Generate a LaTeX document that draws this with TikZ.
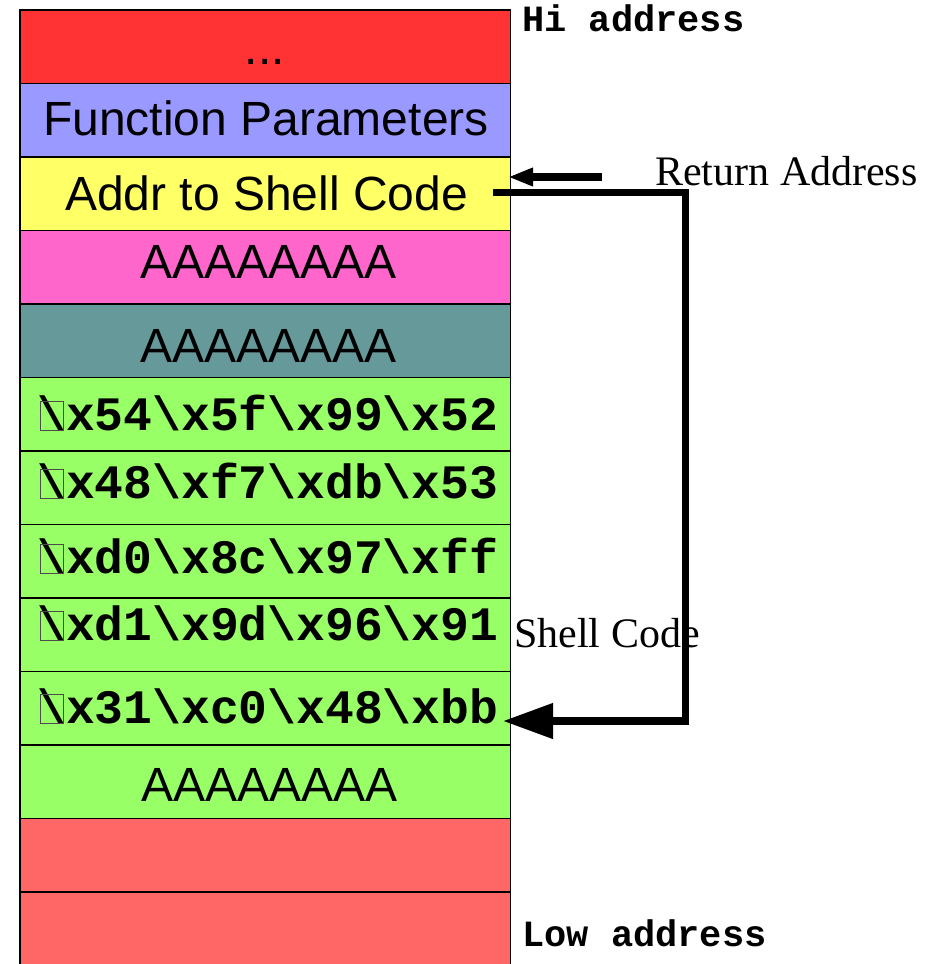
\documentclass[tikz,border=0pt]{standalone}
\usepackage{fontspec}
\setmainfont{Liberation Sans}
\newfontfamily\codefont{Liberation Mono}
\newfontfamily\labelfont{Liberation Serif}
\usetikzlibrary{arrows.meta}

\definecolor{cellred}{RGB}{255,51,51}
\definecolor{cellblue}{RGB}{153,153,255}
\definecolor{cellyellow}{RGB}{255,255,102}
\definecolor{cellpink}{RGB}{255,102,204}
\definecolor{cellteal}{RGB}{102,153,153}
\definecolor{cellgreen}{RGB}{153,255,102}
\definecolor{cellsalmon}{RGB}{255,102,102}

\begin{document}
\begin{tikzpicture}[x=1pt,y=-1pt,
  cell/.style={draw=black, line width=1.2pt, minimum width=490.5pt,
    minimum height=73.5pt, anchor=north west, inner sep=0pt, outer sep=0pt},
  bigtext/.style={font=\fontsize{48}{48}\selectfont, anchor=base, inner sep=0pt},
  codetext/.style={font=\codefont\bfseries\fontsize{48}{48}\selectfont,
    anchor=base west, inner sep=0pt},
  addrtext/.style={font=\codefont\bfseries\fontsize{37}{37}\selectfont,
    anchor=base west, inner sep=0pt},
  notetext/.style={font=\labelfont\fontsize{42}{42}\selectfont,
    anchor=base west, inner sep=0pt},
  glyphbox/.style={draw=black!70, line width=0.8pt},
  shortarrow/.style={line width=8pt, -{Triangle[length=25pt,width=17pt]}},
  jump/.style={line width=7.5pt, -{Triangle[length=50pt,width=34pt]}}
]
\fill[white] (0,0) rectangle (938,964);
\useasboundingbox (0,0) rectangle (938,964);

% stack cells, top (high address) to bottom
\foreach \i/\c in {1/cellred,2/cellblue,3/cellyellow,4/cellpink,5/cellteal,
                   6/cellgreen,7/cellgreen,8/cellgreen,9/cellgreen,10/cellgreen,
                   11/cellgreen,12/cellsalmon}{
  \node[cell, fill=\c] (r\i) at (20,{10+(\i-1)*73.5}) {};
}
% last cell runs off the bottom edge
\node[cell, draw=none, fill=cellsalmon, minimum height=72pt] (r13) at (20,892) {};
\draw[line width=1.2pt] (r13.south west) -- (r13.north west) -- (r13.north east) -- (r13.south east);

% cell contents
\node[bigtext] (t1) at (265,64) {...};
\node[bigtext] (t2) at (266,135) {Function Parameters};
\node[bigtext] (t3) at (266.5,210) {Addr to Shell Code};
\node[bigtext] (t4) at (268.5,278) {AAAAAAAA};
\node[bigtext] (t5) at (268.5,362) {AAAAAAAA};
\node[codetext] (c1) at (37,430) {\textbackslash x54\textbackslash x5f\textbackslash x99\textbackslash x52};
\node[codetext] (c2) at (37,498) {\textbackslash x48\textbackslash xf7\textbackslash xdb\textbackslash x53};
\node[codetext] (c3) at (37,573) {\textbackslash xd0\textbackslash x8c\textbackslash x97\textbackslash xff};
\node[codetext] (c4) at (37,640) {\textbackslash xd1\textbackslash x9d\textbackslash x96\textbackslash x91};
\node[codetext] (c5) at (37,723) {\textbackslash x31\textbackslash xc0\textbackslash x48\textbackslash xbb};
\node[bigtext] (t11) at (269.5,801) {AAAAAAAA};

% placeholder boxes of the unprintable leading byte
\foreach \n in {c1,c2,c3,c4,c5}{
  \draw[glyphbox] ([xshift=3pt]\n.base west) rectangle ++(23,-28.5);
}

% side labels
\node[addrtext] (hi) at (522,31) {Hi address};
\node[addrtext] (lo) at (522,946) {Low address};
\node[notetext] (ret) at (655,185) {Return Address};
\node[notetext] (sc) at (514,647) {Shell Code};

% return address pointer
\coordinate (ra-tail) at (602,177);
\coordinate (ra-tip) at (508,177);
\draw[shortarrow] (ra-tail) -- (ra-tip);

% jump from the overwritten return address into the shell code
\coordinate (jmp-start) at (493,192.5);
\coordinate (jmp-end) at (503,721);
\draw[jump] (jmp-start) -- ++(192.5,0) |- (jmp-end);
\end{tikzpicture}
\end{document}
